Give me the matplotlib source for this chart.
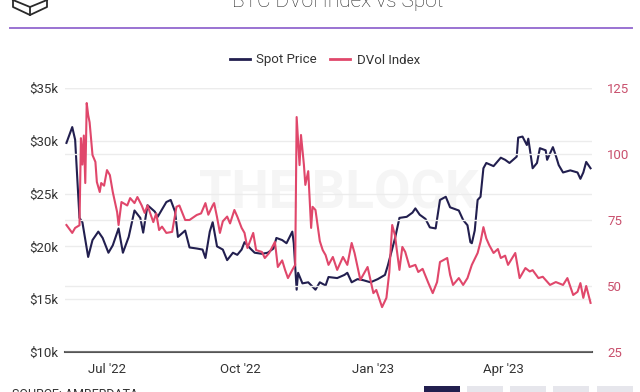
import matplotlib
matplotlib.use("Agg")
import matplotlib.pyplot as plt
import matplotlib.dates as mdates
import pandas as pd
from matplotlib.lines import Line2D
from matplotlib.patches import Rectangle

plt.rcParams["font.family"] = ["Roboto", "DejaVu Sans"]

# BTC spot price (USD)
spot_dates = [
    "2022-06-03", "2022-06-07", "2022-06-09", "2022-06-12", "2022-06-14", "2022-06-18", "2022-06-21", "2022-06-25", "2022-06-28",
    "2022-07-02", "2022-07-05", "2022-07-09", "2022-07-12", "2022-07-16", "2022-07-20", "2022-07-24", "2022-07-26", "2022-07-29",
    "2022-08-03", "2022-08-05", "2022-08-11", "2022-08-14", "2022-08-17", "2022-08-19", "2022-08-24", "2022-08-27",
    "2022-09-01", "2022-09-05", "2022-09-07", "2022-09-10", "2022-09-12", "2022-09-15", "2022-09-19", "2022-09-22", "2022-09-26", "2022-09-29",
    "2022-10-02", "2022-10-04", "2022-10-08", "2022-10-11", "2022-10-16", "2022-10-20", "2022-10-24", "2022-10-26", "2022-10-30",
    "2022-11-02", "2022-11-06", "2022-11-07", "2022-11-09", "2022-11-10", "2022-11-13", "2022-11-17", "2022-11-22", "2022-11-25", "2022-11-29",
    "2022-12-01", "2022-12-07", "2022-12-12", "2022-12-14", "2022-12-17", "2022-12-21", "2022-12-25", "2022-12-30",
    "2023-01-04", "2023-01-09", "2023-01-11", "2023-01-16", "2023-01-19", "2023-01-24", "2023-01-28", "2023-01-30",
    "2023-02-02", "2023-02-06", "2023-02-09", "2023-02-13", "2023-02-16", "2023-02-20", "2023-02-23",
    "2023-03-01", "2023-03-04", "2023-03-07", "2023-03-09", "2023-03-10", "2023-03-12", "2023-03-14", "2023-03-16", "2023-03-18", "2023-03-20", "2023-03-25", "2023-03-30",
    "2023-04-02", "2023-04-05", "2023-04-10", "2023-04-11", "2023-04-14", "2023-04-17", "2023-04-18", "2023-04-21", "2023-04-24", "2023-04-26", "2023-04-30",
    "2023-05-01", "2023-05-05", "2023-05-07", "2023-05-09", "2023-05-12", "2023-05-17", "2023-05-22", "2023-05-24", "2023-05-26", "2023-05-28", "2023-05-31",
]
spot_k = [
    29.8, 31.3, 30.1, 22.7, 22.3, 19.0, 20.6, 21.4, 20.8,
    19.4, 20.1, 21.7, 19.4, 20.9, 23.4, 22.7, 21.3, 23.9,
    23.3, 22.8, 24.2, 24.4, 23.3, 20.9, 21.5, 19.9,
    19.8, 19.7, 18.9, 21.4, 22.3, 20.0, 19.7, 18.7, 19.4, 19.2,
    19.7, 20.4, 19.8, 19.4, 19.3, 19.4, 19.8, 20.8, 20.6,
    20.3, 21.4, 20.3, 15.9, 17.5, 16.5, 16.6, 15.9, 16.6, 16.3,
    17.1, 17.0, 17.3, 17.5, 16.6, 16.9, 16.8, 16.6,
    16.9, 17.3, 18.2, 20.8, 22.7, 22.8, 23.2, 23.6,
    23.0, 22.6, 21.8, 21.7, 24.4, 24.7, 23.7,
    23.4, 22.5, 22.0, 20.4, 20.3, 21.5, 24.4, 24.7, 27.4, 27.9, 27.6, 28.4,
    28.2, 27.9, 28.5, 30.3, 30.4, 29.6, 30.2, 27.4, 27.9, 29.3, 29.1,
    28.2, 29.4, 28.6, 27.7, 27.0, 27.2, 27.0, 26.4, 27.0, 28.0, 27.4,
]
spot_price = [v * 1000 for v in spot_k]

# Deribit DVol index
dvol_dates = [
    "2022-06-03", "2022-06-07", "2022-06-09", "2022-06-12", "2022-06-13", "2022-06-14", "2022-06-15", "2022-06-16", "2022-06-17",
    "2022-06-18", "2022-06-19", "2022-06-21", "2022-06-23", "2022-06-24", "2022-06-26", "2022-06-27", "2022-06-29",
    "2022-07-01", "2022-07-03", "2022-07-05", "2022-07-08", "2022-07-09", "2022-07-11", "2022-07-15", "2022-07-17", "2022-07-20",
    "2022-07-22", "2022-07-25", "2022-07-27", "2022-07-29",
    "2022-08-02", "2022-08-04", "2022-08-06", "2022-08-08", "2022-08-11", "2022-08-15", "2022-08-18", "2022-08-20", "2022-08-24", "2022-08-27",
    "2022-09-01", "2022-09-04", "2022-09-07", "2022-09-09", "2022-09-12", "2022-09-13", "2022-09-15", "2022-09-17", "2022-09-19",
    "2022-09-22", "2022-09-24", "2022-09-27", "2022-09-29",
    "2022-10-02", "2022-10-04", "2022-10-06", "2022-10-10", "2022-10-12", "2022-10-16", "2022-10-18", "2022-10-21", "2022-10-25", "2022-10-27", "2022-10-30",
    "2022-11-01", "2022-11-03", "2022-11-06", "2022-11-08", "2022-11-09", "2022-11-11", "2022-11-12", "2022-11-14", "2022-11-15",
    "2022-11-17", "2022-11-19", "2022-11-20", "2022-11-22", "2022-11-25", "2022-11-27", "2022-11-29",
    "2022-12-01", "2022-12-04", "2022-12-07", "2022-12-11", "2022-12-14", "2022-12-17", "2022-12-19", "2022-12-23", "2022-12-28",
    "2023-01-01", "2023-01-03", "2023-01-07", "2023-01-10", "2023-01-12", "2023-01-14", "2023-01-16", "2023-01-17", "2023-01-19",
    "2023-01-21", "2023-01-23", "2023-01-26", "2023-01-30",
    "2023-02-01", "2023-02-04", "2023-02-08", "2023-02-11", "2023-02-14", "2023-02-16", "2023-02-21", "2023-02-23", "2023-02-25",
    "2023-03-01", "2023-03-04", "2023-03-07", "2023-03-10", "2023-03-14", "2023-03-16", "2023-03-18", "2023-03-20", "2023-03-22",
    "2023-03-25", "2023-03-28", "2023-03-30",
    "2023-04-02", "2023-04-04", "2023-04-09", "2023-04-12", "2023-04-16", "2023-04-19", "2023-04-21", "2023-04-25", "2023-04-28",
    "2023-05-03", "2023-05-07", "2023-05-12", "2023-05-15", "2023-05-19", "2023-05-22", "2023-05-24", "2023-05-26", "2023-05-28", "2023-05-31",
]
dvol_index = [
    73.1, 70.1, 72.0, 73.0, 106.0, 96.0, 107.0, 89.0, 119.3,
    114.8, 112.0, 99.6, 97.0, 89.4, 85.6, 89.0, 88.0,
    93.9, 92.0, 85.6, 78.0, 73.1, 81.8, 80.5, 83.3, 81.4,
    83.7, 80.5, 77.7, 80.5,
    74.2, 77.5, 71.2, 72.5, 70.1, 70.5, 80.0, 80.5, 75.0, 75.0,
    76.9, 77.5, 81.4, 77.0, 80.5, 81.4, 76.1, 70.1, 74.5,
    76.3, 73.7, 78.8, 76.3,
    72.0, 70.1, 64.4, 70.1, 63.6, 62.9, 60.6, 62.5, 66.7, 57.2, 59.7,
    56.1, 53.0, 56.1, 58.0, 114.0, 95.8, 107.2, 96.0, 88.3,
    93.5, 72.0, 80.0, 78.8, 67.0, 63.6, 61.7,
    58.0, 61.0, 56.1, 61.0, 58.0, 66.3, 62.5, 52.3, 57.2,
    47.3, 48.5, 42.0, 45.5, 55.3, 73.1, 69.0, 64.4, 56.1,
    64.8, 62.9, 57.2, 58.0,
    55.3, 56.5, 51.1, 47.3, 51.5, 59.1, 60.6, 54.2, 50.4,
    53.0, 50.4, 53.0, 58.0, 62.5, 66.7, 72.3, 68.0, 65.5,
    62.5, 64.0, 60.6,
    61.5, 58.0, 62.5, 53.0, 56.8, 55.5, 56.0, 53.0, 53.5,
    50.4, 51.5, 50.4, 53.0, 46.6, 47.8, 51.1, 45.5, 50.0, 43.6,
]

left_ticks = [10000, 15000, 20000, 25000, 30000, 35000]
right_ticks = [25, 50, 75, 100, 125]

NAVY = "#221f4f"
RED = "#e0476b"
TXT = "#333333"

fig = plt.figure(figsize=(6.4, 3.92), dpi=100)

# page decoration in pixel coordinates
deco = fig.add_axes([0, 0, 1, 1], zorder=-5)
deco.set_xlim(0, 640)
deco.set_ylim(392, 0)
deco.axis("off")
deco.plot([10, 632], [28, 28], color="#9a72d2", lw=1.4)
deco.plot([13, 13, 30, 47, 47], [0, 7, 15, 7, 0], color="#2a2a2a", lw=1.3)
deco.plot([13, 30, 47], [0, 7, 0], color="#2a2a2a", lw=1.3)
deco.plot([30, 30], [7, 15], color="#2a2a2a", lw=1.3)
btn_x = [424, 467, 510, 553, 597]
for i, bx in enumerate(btn_x):
    deco.add_patch(Rectangle((bx, 386), 36, 10, color=NAVY if i == 0 else "#e6e6ec", lw=0))

fig.text(0.527, 0.982, "BTC DVol Index vs Spot", ha="center", va="baseline",
         fontsize=15, color="#2a2a2a", fontweight="light")
fig.text(12 / 640, 1 - 388 / 392, "SOURCE: AMBERDATA", ha="left", va="top",
         fontsize=9, color=TXT)

ax = fig.add_axes([65 / 640, 40 / 392, 527 / 640, 264 / 392])
ax2 = ax.twinx()

ax.text(0.52, 0.6, "THE BLOCK", transform=ax.transAxes, ha="center", va="center",
        fontsize=38, fontweight="bold", color="#f5f5f5", zorder=0.1)

ax.plot(pd.to_datetime(spot_dates), spot_price, color=NAVY, lw=1.5, label="Spot Price")
ax2.plot(pd.to_datetime(dvol_dates), dvol_index, color=RED, lw=1.5, label="DVol Index")

ax.set_ylim(10000, 35000)
ax.set_yticks(left_ticks)
ax.set_yticklabels([f"${v // 1000}k" for v in left_ticks])
ax2.set_ylim(25, 125)
ax2.set_yticks(right_ticks)
ax.set_xlim(pd.Timestamp("2022-06-02"), pd.Timestamp("2023-06-01"))
ax.xaxis.set_major_locator(mdates.MonthLocator(bymonth=[1, 4, 7, 10]))
ax.xaxis.set_major_formatter(mdates.DateFormatter("%b '%y"))

ax.grid(axis="y", color="#ececec", lw=1)
ax2.grid(axis="y", color="#ececec", lw=1)
ax.set_axisbelow(True)
ax2.set_axisbelow(True)

for s in ["top", "left", "right"]:
    ax.spines[s].set_visible(False)
for s in ax2.spines.values():
    s.set_visible(False)
ax.spines["bottom"].set_color("#555555")
ax.spines["bottom"].set_linewidth(1.5)

ax.tick_params(axis="x", length=0, labelsize=9.5, colors=TXT, pad=8)
ax.tick_params(axis="y", length=0, labelsize=9.5, colors=TXT, pad=5)
ax2.tick_params(axis="y", length=0, labelsize=9.5, colors="#c9506d", pad=11)

handles = [Line2D([], [], color=NAVY, lw=2), Line2D([], [], color=RED, lw=2)]
fig.legend(handles, ["Spot Price", "DVol Index"], loc="center",
           bbox_to_anchor=(325 / 640, 1 - 60 / 392), ncol=2, frameon=False,
           fontsize=9.5, handlelength=1.5, handletextpad=0.5, columnspacing=1.0,
           labelcolor=TXT)

fig.savefig("out.png", dpi=100, facecolor="white")
